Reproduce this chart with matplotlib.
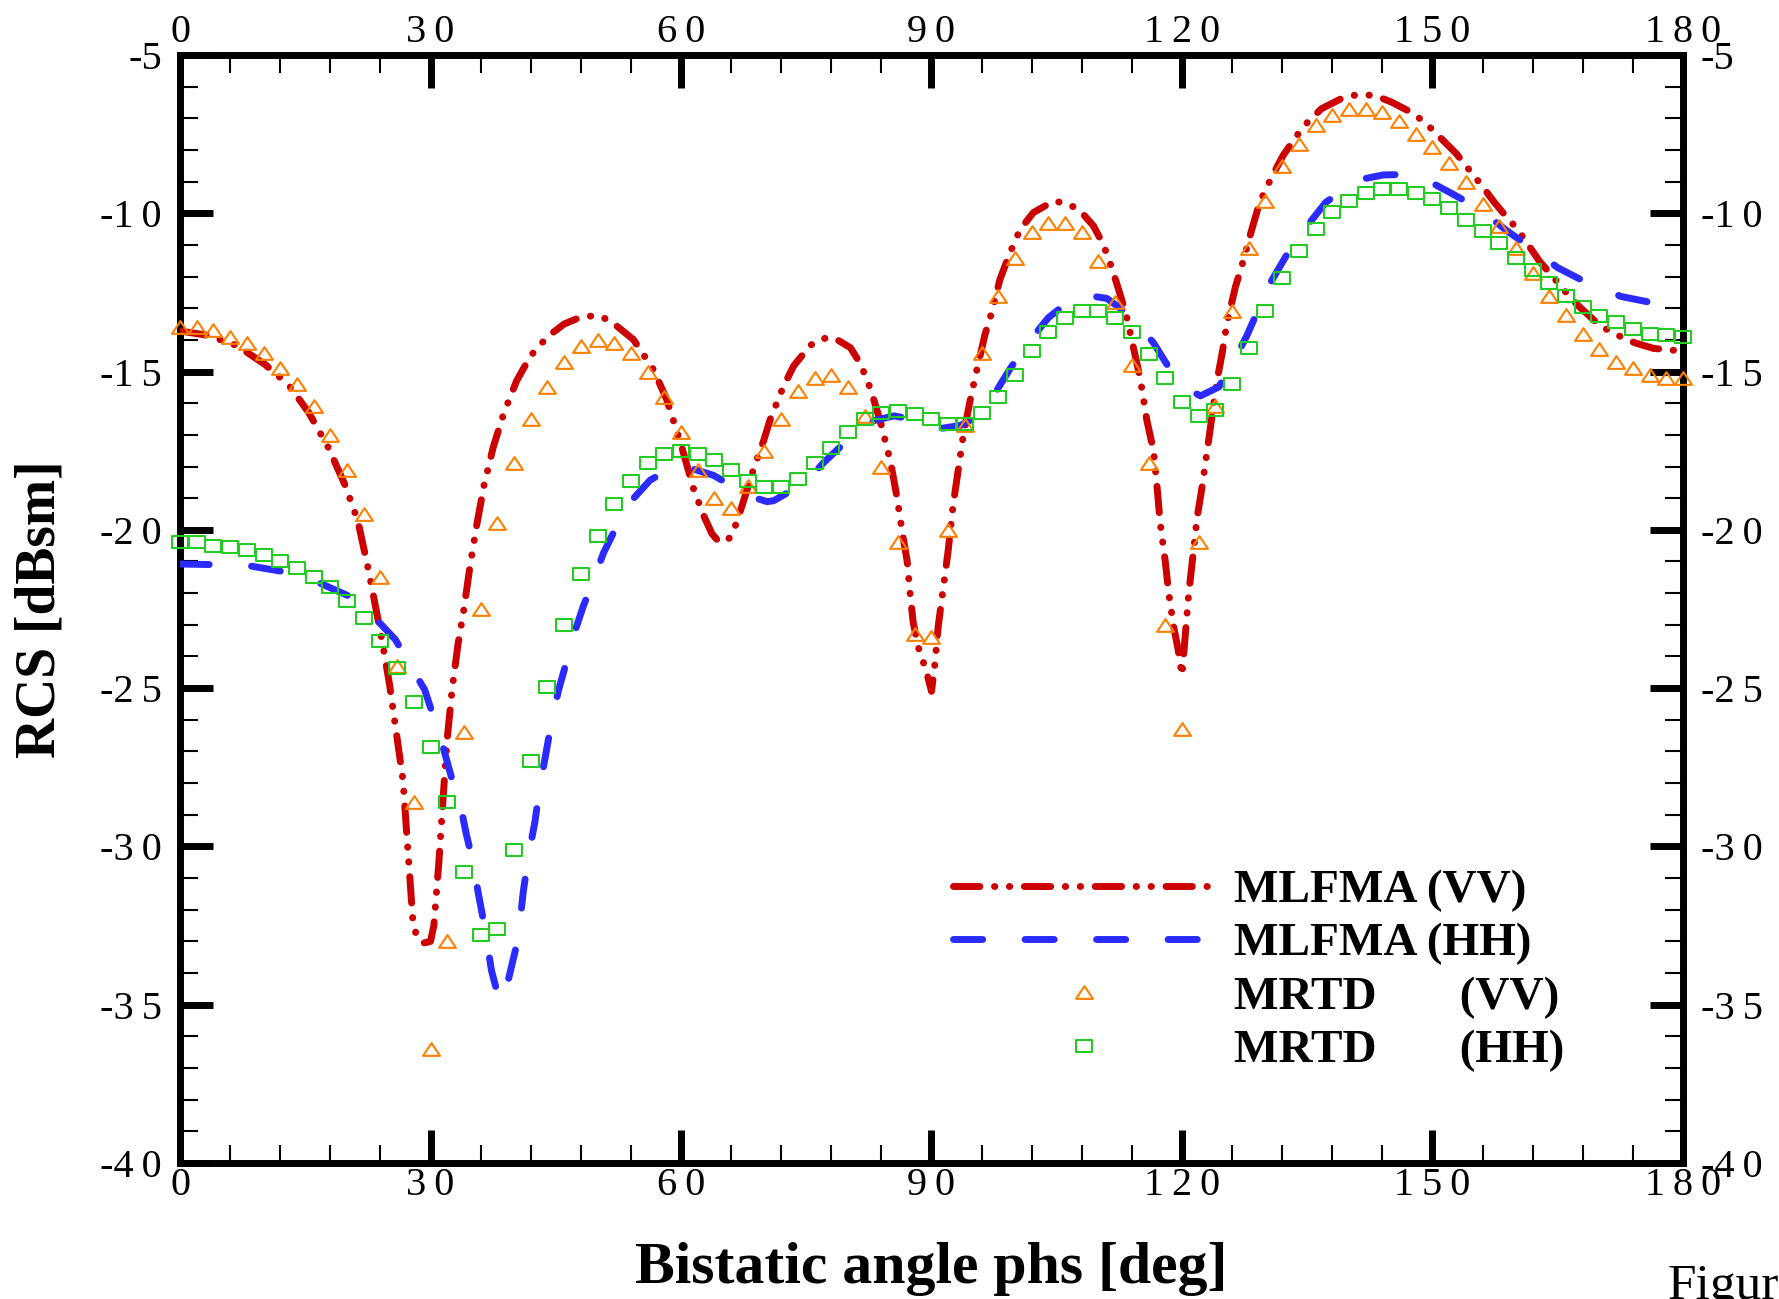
import matplotlib
matplotlib.use('Agg')
from matplotlib import pyplot as plt
from matplotlib.path import Path
from matplotlib.ticker import MultipleLocator, FuncFormatter

plt.rcParams['font.family'] = ['Liberation Serif', 'DejaVu Serif']

# MLFMA (VV) curve
vv_ang = [0, 3.4, 6.8, 10.2, 13.0, 15.4, 17.8, 19.8, 21.3, 22.6,
          24.2, 25.1, 25.9, 26.7, 27.1, 27.5, 27.9, 28.4, 29.2, 30.0,
          30.4, 31.0, 31.5, 32.0, 32.6, 33.3, 34.0, 34.7, 35.5, 36.4,
          37.5, 38.8, 40.3, 42.0, 44.0, 46.0, 48.0, 50.0, 51.5, 54.3,
          56.7, 58.3, 60.0, 61.5, 62.7, 63.7, 64.6, 65.9, 66.7, 67.7,
          68.7, 69.9, 70.7, 72.3, 73.5, 75.5, 76.9, 78.3, 80.3, 81.5,
          82.7, 83.9, 85.1, 85.9, 86.5, 87.1, 87.4, 87.8, 88.4, 89.4,
          90.0, 90.4, 90.8, 91.4, 92.0, 92.6, 93.2, 93.8, 94.6, 95.4,
          96.4, 97.3, 98.2, 99.4, 100.6, 102.2, 104.6, 106.2, 107.8, 109.4,
          110.6, 111.6, 112.6, 113.4, 114.2, 115.0, 115.8, 116.6, 117.0, 117.4,
          118.0, 118.4, 119.0, 119.5, 120.0, 120.4, 120.8, 121.4, 121.8, 122.4,
          123.0, 123.6, 124.2, 124.8, 125.4, 126.4, 127.2, 128.3, 129.3, 130.7,
          132.1, 134.5, 136.7, 139.3, 141.1, 143.1, 145.1, 147.0, 149.0, 150.7,
          152.8, 153.8, 155.8, 157.4, 158.4, 160.2, 162.0, 162.8, 164.5, 166.5,
          167.7, 170.1, 172.7, 174.3, 176.5, 179.3, 180.0]
vv_rcs = [-13.72, -13.86, -14.18, -14.78, -15.42, -16.29, -17.42, -18.61, -19.72, -21.31,
          -23.5, -24.9, -26.4, -27.9, -29.4, -30.9, -32.4, -32.9, -33.05, -33.0,
          -32.5, -30.5, -28.5, -26.6, -25.0, -23.6, -22.5, -21.2, -19.9, -18.6,
          -17.4, -16.3, -15.3, -14.5, -13.9, -13.5, -13.28, -13.23, -13.39, -13.99,
          -14.94, -15.89, -17.3, -18.7, -19.54, -20.12, -20.4, -20.25, -19.75, -18.91,
          -18.07, -17.18, -16.5, -15.45, -14.82, -14.17, -13.96, -13.93, -14.25, -14.76,
          -15.55, -16.6, -17.86, -19.02, -20.08, -21.01, -21.91, -22.91, -23.69, -24.48,
          -25.1, -24.26, -23.06, -21.85, -20.65, -19.2, -18.12, -17.03, -15.95, -14.98,
          -13.84, -13.05, -12.09, -11.25, -10.52, -9.98, -9.62, -9.68, -9.92, -10.4,
          -11.0, -11.73, -12.57, -13.3, -14.26, -15.22, -16.55, -17.51, -18.6, -19.8,
          -21.0, -21.97, -23.06, -23.72, -24.6, -23.3, -22.03, -20.62, -19.64, -18.66,
          -17.53, -16.4, -15.28, -14.44, -13.45, -12.33, -11.63, -10.57, -9.66, -8.88,
          -8.18, -7.27, -6.7, -6.35, -6.25, -6.28, -6.49, -6.75, -7.1, -7.55,
          -8.1, -8.43, -9.09, -9.65, -9.97, -10.51, -11.2, -11.51, -12.03, -12.66,
          -12.98, -13.56, -13.92, -14.1, -14.27, -14.34, -14.35]

# MLFMA (HH) curve
hh_ang = [0, 4.2, 8.6, 12.6, 16.8, 20.2, 23.4, 25.8, 27.8, 29.3,
          30.6, 31.5, 32.5, 33.5, 34.3, 35.1, 35.7, 36.5, 37.3, 38.3,
          39.3, 40.5, 41.1, 41.7, 42.5, 43.1, 43.7, 44.5, 45.3, 46.3,
          47.1, 48.3, 49.5, 50.7, 52.1, 54.1, 56.3, 58.5, 60.5, 63.9,
          66.0, 67.9, 70.3, 71.1, 74.9, 77.1, 80.3, 83.1, 85.5, 87.5,
          89.0, 91.3, 93.5, 95.4, 97.4, 99.4, 101.4, 104.0, 106.6, 108.8,
          111.0, 114.0, 116.6, 118.4, 121.0, 122.2, 124.4, 126.4, 127.8, 129.4,
          130.6, 132.8, 134.6, 137.2, 140.0, 142.0, 144.1, 146.0, 148.1, 150.0,
          152.2, 155.4, 159.0, 161.8, 165.0, 168.4, 172.6, 176.2, 180.0]
hh_rcs = [-21.08, -21.1, -21.15, -21.33, -21.69, -22.09, -22.8, -23.47, -24.39, -25.05,
          -26.1, -26.86, -27.81, -28.59, -29.63, -30.5, -31.45, -32.57, -33.92, -34.93,
          -34.24, -32.9, -31.45, -30.34, -29.23, -28.11, -27.24, -26.06, -25.1, -24.15,
          -23.36, -22.41, -21.61, -20.74, -19.99, -19.07, -18.43, -18.1, -18.0, -18.28,
          -18.6, -18.91, -19.11, -19.08, -18.51, -17.87, -17.08, -16.55, -16.4, -16.5,
          -16.62, -16.79, -16.7, -16.43, -15.77, -14.92, -14.14, -13.3, -12.75, -12.6,
          -12.69, -13.27, -14.1, -14.86, -15.6, -15.77, -15.49, -14.58, -13.85, -12.89,
          -12.19, -11.2, -10.53, -9.66, -9.14, -8.9, -8.79, -8.78, -8.88, -9.05,
          -9.36, -9.83, -10.57, -11.09, -11.72, -12.18, -12.63, -12.82, -12.95]

# MRTD samples every 2 deg
mrtd_ang = list(range(0, 181, 2))
mrtd_vv = [-13.6, -13.6, -13.7, -13.9, -14.1, -14.4, -14.9, -15.4, -16.1, -17.0,
           -18.1, -19.5, -21.5, -24.3, -28.6, -36.4, -33.0, -26.4, -22.5, -19.8,
           -17.9, -16.5, -15.5, -14.7, -14.2, -14.0, -14.1, -14.4, -15.0, -15.8,
           -16.9, -18.1, -19.0, -19.3, -18.6, -17.5, -16.5, -15.6, -15.2, -15.1,
           -15.5, -16.4, -18.0, -20.4, -23.3, -23.4, -20.0, -16.7, -14.4, -12.6,
           -11.4, -10.6, -10.3, -10.3, -10.6, -11.5, -12.8, -14.8, -17.9, -23.0,
           -26.3, -20.4, -16.1, -13.1, -11.1, -9.6, -8.5, -7.8, -7.2, -6.9,
           -6.7, -6.7, -6.8, -7.1, -7.5, -7.9, -8.4, -9.0, -9.7, -10.4,
           -11.1, -11.9, -12.6, -13.2, -13.8, -14.3, -14.7, -14.9, -15.1, -15.2,
           -15.2]
mrtd_hh = [-20.4, -20.4, -20.5, -20.55, -20.65, -20.8, -21.0, -21.2, -21.5, -21.8,
           -22.25, -22.8, -23.5, -24.35, -25.45, -26.85, -28.6, -30.8, -32.8, -32.6,
           -30.1, -27.3, -24.95, -23.0, -21.4, -20.2, -19.2, -18.45, -17.9, -17.6,
           -17.5, -17.6, -17.8, -18.1, -18.45, -18.65, -18.65, -18.4, -17.9, -17.4,
           -16.9, -16.5, -16.3, -16.25, -16.35, -16.5, -16.65, -16.65, -16.3, -15.8,
           -15.1, -14.35, -13.75, -13.3, -13.1, -13.1, -13.3, -13.75, -14.45, -15.2,
           -15.95, -16.4, -16.2, -15.4, -14.25, -13.1, -12.05, -11.2, -10.5, -9.95,
           -9.6, -9.35, -9.25, -9.25, -9.35, -9.55, -9.85, -10.2, -10.55, -10.95,
           -11.4, -11.8, -12.2, -12.6, -12.95, -13.25, -13.45, -13.65, -13.8, -13.85,
           -13.9]

labels = ['MLFMA (VV)', 'MLFMA (HH)', 'MRTD       (VV)', 'MRTD       (HH)']

# flat open markers like the original
tri = Path([(-1, -0.75), (1, -0.75), (0, 0.75), (-1, -0.75)], closed=True)
box = Path([(-1, -0.75), (1, -0.75), (1, 0.75), (-1, 0.75), (-1, -0.75)], closed=True)

fig = plt.figure(figsize=(17.79, 12.99), dpi=100)
ax = fig.add_axes([0.1012, 0.1047, 0.8448, 0.853])

ax.plot(vv_ang, vv_rcs, color='#cc0000', lw=5,
        linestyle=(0, (3.8, 2.1, 0.05, 2.1, 0.05, 2.1)),
        dash_capstyle='round', solid_capstyle='round', label=labels[0], zorder=3)
ax.plot(hh_ang, hh_rcs, color='#2b2bff', lw=5, linestyle=(0, (4.2, 6.1)),
        dash_capstyle='round', solid_capstyle='round', label=labels[1], zorder=3)
ax.plot(mrtd_ang, mrtd_vv, ls='none', marker=tri, ms=12.2, mfc='none',
        mec='#ff8000', mew=1.5, clip_on=False, label=labels[2], zorder=4)
ax.plot(mrtd_ang, mrtd_hh, ls='none', marker=box, ms=11.2, mfc='none',
        mec='#22cc22', mew=1.5, clip_on=False, label=labels[3], zorder=4)

ax.set_xlim(0, 180)
ax.set_ylim(-40, -5)
ax.xaxis.set_major_locator(MultipleLocator(30))
ax.xaxis.set_minor_locator(MultipleLocator(6))
ax.yaxis.set_major_locator(MultipleLocator(5))
ax.yaxis.set_minor_locator(MultipleLocator(1))


def spaced(v, pos):
	s = '%d' % round(v)
	sign = '-' if s.startswith('-') else ''
	return sign + '\u2009'.join(s.lstrip('-'))


ax.xaxis.set_major_formatter(FuncFormatter(spaced))
ax.yaxis.set_major_formatter(FuncFormatter(spaced))

ax.tick_params(which='both', direction='in', top=True, right=True,
               labeltop=True, labelright=True, labelsize=29)
ax.tick_params(which='major', length=24, width=5)
ax.tick_params(which='minor', length=13, width=1.5)
ax.tick_params(axis='x', pad=3)
ax.tick_params(axis='y', pad=13)
for sp in ax.spines.values():
	sp.set_linewidth(5)

ax.set_xlabel('Bistatic angle phs [deg]', fontsize=43, fontweight='bold')
ax.xaxis.set_label_coords(0.5, -0.071)
ax.set_ylabel('RCS [dBsm]', fontsize=40, fontweight='bold', va='center')
ax.yaxis.set_label_coords(-0.093, 0.5)

ax.legend(loc='upper left', bbox_to_anchor=(953 / 1779, 1 - 869 / 1299),
          bbox_transform=fig.transFigure, frameon=False, borderpad=0,
          borderaxespad=0, handlelength=5.53, handletextpad=0.42,
          labelspacing=0.22, numpoints=1, prop={'weight': 'bold', 'size': 34})

fig.text(1668 / 1779, 0.0, 'Figure', fontsize=37, va='baseline', ha='left')

fig.savefig('out.png', dpi=100)
